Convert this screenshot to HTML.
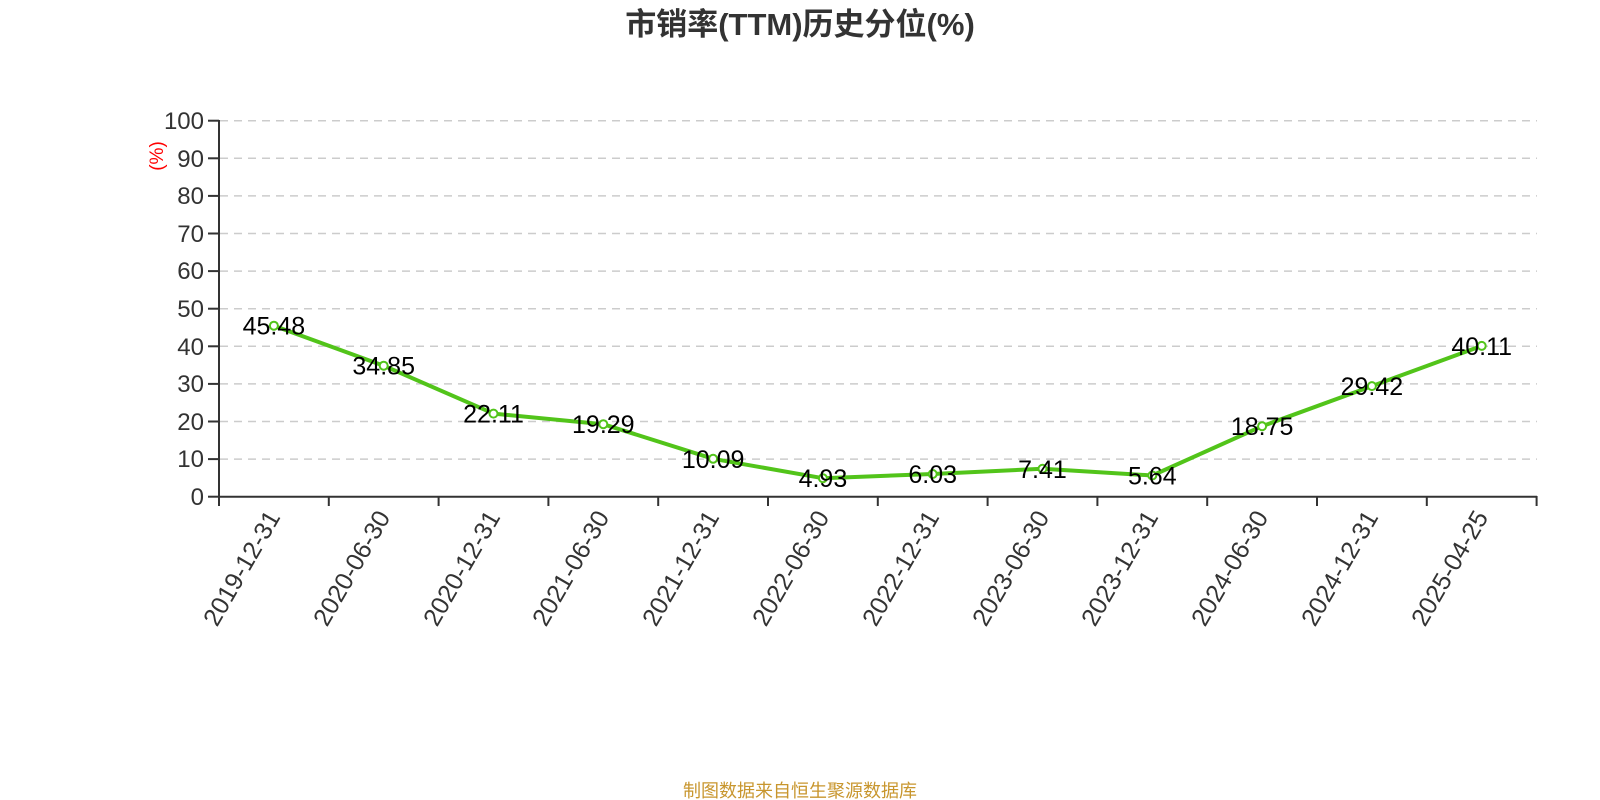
<!DOCTYPE html>
<html><head><meta charset="utf-8"><style>
html,body{margin:0;padding:0;background:#fff;}
svg{display:block;}
</style></head><body>
<svg width="1600" height="800" xmlns="http://www.w3.org/2000/svg" font-family="'Liberation Sans','Noto Sans CJK SC',sans-serif">
<text x="800" y="35" text-anchor="middle" font-size="31" font-weight="bold" fill="#333">市销率(TTM)历史分位(%)</text>
<g stroke="#ccc" stroke-width="1.5" stroke-dasharray="8,6">
<line x1="220" x2="1537" y1="120.7" y2="120.7"/><line x1="220" x2="1537" y1="158.3" y2="158.3"/><line x1="220" x2="1537" y1="195.9" y2="195.9"/><line x1="220" x2="1537" y1="233.5" y2="233.5"/><line x1="220" x2="1537" y1="271.1" y2="271.1"/><line x1="220" x2="1537" y1="308.7" y2="308.7"/><line x1="220" x2="1537" y1="346.3" y2="346.3"/><line x1="220" x2="1537" y1="383.9" y2="383.9"/><line x1="220" x2="1537" y1="421.5" y2="421.5"/><line x1="220" x2="1537" y1="459.1" y2="459.1"/>
</g>
<g stroke="#333" stroke-width="2">
<line x1="219" y1="120" x2="219" y2="497"/><line x1="219" y1="496.7" x2="1537" y2="496.7"/>
<line x1="208" x2="219" y1="120.7" y2="120.7"/><line x1="208" x2="219" y1="158.3" y2="158.3"/><line x1="208" x2="219" y1="195.9" y2="195.9"/><line x1="208" x2="219" y1="233.5" y2="233.5"/><line x1="208" x2="219" y1="271.1" y2="271.1"/><line x1="208" x2="219" y1="308.7" y2="308.7"/><line x1="208" x2="219" y1="346.3" y2="346.3"/><line x1="208" x2="219" y1="383.9" y2="383.9"/><line x1="208" x2="219" y1="421.5" y2="421.5"/><line x1="208" x2="219" y1="459.1" y2="459.1"/><line x1="208" x2="219" y1="496.7" y2="496.7"/>
<line x1="219" x2="219" y1="496" y2="506"/><line x1="328.8" x2="328.8" y1="496" y2="506"/><line x1="438.6" x2="438.6" y1="496" y2="506"/><line x1="548.4" x2="548.4" y1="496" y2="506"/><line x1="658.2" x2="658.2" y1="496" y2="506"/><line x1="768" x2="768" y1="496" y2="506"/><line x1="877.8" x2="877.8" y1="496" y2="506"/><line x1="987.6" x2="987.6" y1="496" y2="506"/><line x1="1097.4" x2="1097.4" y1="496" y2="506"/><line x1="1207.2" x2="1207.2" y1="496" y2="506"/><line x1="1317" x2="1317" y1="496" y2="506"/><line x1="1426.8" x2="1426.8" y1="496" y2="506"/><line x1="1536.6" x2="1536.6" y1="496" y2="506"/>
</g>
<g font-size="24" fill="#333" text-anchor="end">
<text x="204" y="129">100</text><text x="204" y="167">90</text><text x="204" y="204">80</text><text x="204" y="242">70</text><text x="204" y="279">60</text><text x="204" y="317">50</text><text x="204" y="355">40</text><text x="204" y="392">30</text><text x="204" y="430">20</text><text x="204" y="467">10</text><text x="204" y="505">0</text>
</g>
<text transform="translate(163,156) rotate(-90)" text-anchor="middle" font-size="19" fill="red">(%)</text>
<g font-size="25" fill="#333" text-anchor="end">
<text transform="translate(281,517) rotate(-60)">2019-12-31</text>
<text transform="translate(391,517) rotate(-60)">2020-06-30</text>
<text transform="translate(501,517) rotate(-60)">2020-12-31</text>
<text transform="translate(610,517) rotate(-60)">2021-06-30</text>
<text transform="translate(720,517) rotate(-60)">2021-12-31</text>
<text transform="translate(830,517) rotate(-60)">2022-06-30</text>
<text transform="translate(940,517) rotate(-60)">2022-12-31</text>
<text transform="translate(1050,517) rotate(-60)">2023-06-30</text>
<text transform="translate(1159,517) rotate(-60)">2023-12-31</text>
<text transform="translate(1269,517) rotate(-60)">2024-06-30</text>
<text transform="translate(1379,517) rotate(-60)">2024-12-31</text>
<text transform="translate(1489,517) rotate(-60)">2025-04-25</text>
</g>
<polyline fill="none" stroke="#52c41a" stroke-width="4" stroke-linejoin="round" points="273.9,325.7 383.7,365.7 493.5,413.6 603.3,424.2 713.1,458.8 822.9,478.2 932.7,474.0 1042.5,468.8 1152.3,475.5 1262.1,426.2 1371.9,386.1 1481.7,345.9"/>
<g fill="#fff" stroke="#52c41a" stroke-width="2">
<circle cx="273.9" cy="325.7" r="4"/><circle cx="383.7" cy="365.7" r="4"/><circle cx="493.5" cy="413.6" r="4"/><circle cx="603.3" cy="424.2" r="4"/><circle cx="713.1" cy="458.8" r="4"/><circle cx="822.9" cy="478.2" r="4"/><circle cx="932.7" cy="474.0" r="4"/><circle cx="1042.5" cy="468.8" r="4"/><circle cx="1152.3" cy="475.5" r="4"/><circle cx="1262.1" cy="426.2" r="4"/><circle cx="1371.9" cy="386.1" r="4"/><circle cx="1481.7" cy="345.9" r="4"/>
</g>
<g font-size="25" fill="#000" text-anchor="middle">
<text x="273.9" y="334.7">45.48</text><text x="383.7" y="374.7">34.85</text><text x="493.5" y="422.6">22.11</text><text x="603.3" y="433.2">19.29</text><text x="713.1" y="467.8">10.09</text><text x="822.9" y="487.2">4.93</text><text x="932.7" y="483">6.03</text><text x="1042.5" y="477.8">7.41</text><text x="1152.3" y="484.5">5.64</text><text x="1262.1" y="435.2">18.75</text><text x="1371.9" y="395.1">29.42</text><text x="1481.7" y="354.9">40.11</text>
</g>
<text x="800" y="797" text-anchor="middle" font-size="18" fill="#c8962e">制图数据来自恒生聚源数据库</text>
</svg>
</body></html>
